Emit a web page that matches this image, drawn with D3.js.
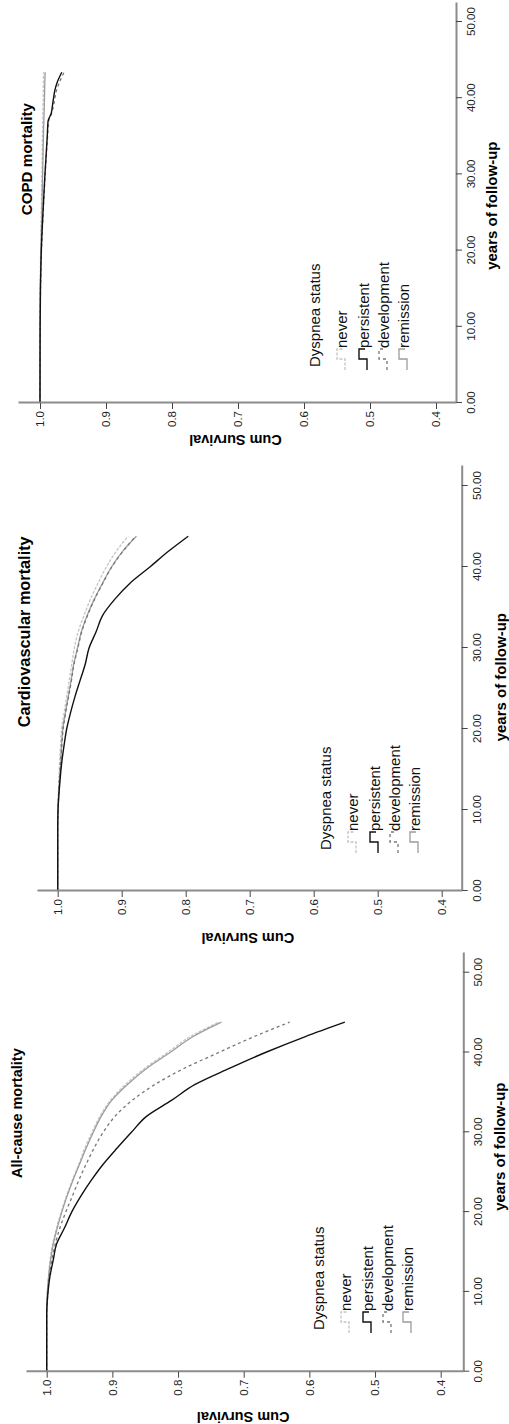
<!DOCTYPE html>
<html>
<head>
<meta charset="utf-8">
<script src="https://cdn.jsdelivr.net/npm/d3@7"></script>
<style>
  body { margin: 0; background: #fff; }
  svg { display: block; }
</style>
</head>
<body>
<div id="chart"></div>
<script>
// ── Data ──────────────────────────────────────────────────────────────────────
const GROUPS  = ["never", "persistent", "development", "remission"];
const TITLES  = ["All-cause mortality", "Cardiovascular mortality", "COPD mortality"];
const LEGEND_TITLE = "Dyspnea status";
const X_LABEL = "years of follow-up";
const Y_LABEL = "Cum Survival";
const X_TICKS = [0, 10, 20, 30, 40, 50];
const Y_TICKS = [0.4, 0.5, 0.6, 0.7, 0.8, 0.9, 1.0];

const ALL_T           = [0, 7, 10, 12, 14, 16, 18, 20, 22, 24, 26, 28, 30, 32, 34, 36, 38, 40, 42, 43.8];
const ALL_NEVER       = [1, 1, 0.999, 0.997, 0.995, 0.991, 0.985, 0.978, 0.970, 0.961, 0.951, 0.942, 0.931, 0.919, 0.903, 0.880, 0.851, 0.816, 0.781, 0.738];
const ALL_PERSISTENT  = [1, 1, 0.998, 0.995, 0.990, 0.985, 0.973, 0.962, 0.948, 0.932, 0.914, 0.893, 0.871, 0.848, 0.810, 0.774, 0.722, 0.667, 0.606, 0.546];
const ALL_DEVELOPMENT = [1, 1, 0.998, 0.996, 0.992, 0.987, 0.980, 0.971, 0.961, 0.951, 0.940, 0.928, 0.914, 0.896, 0.870, 0.835, 0.791, 0.738, 0.684, 0.630];
const ALL_REMISSION   = [1, 1, 0.999, 0.997, 0.994, 0.990, 0.984, 0.977, 0.969, 0.960, 0.950, 0.940, 0.929, 0.917, 0.901, 0.877, 0.848, 0.812, 0.777, 0.734];

const CV_T           = [0, 7.5, 10, 12, 14, 16, 18, 20, 22, 24, 26, 28, 30, 32, 34, 36, 38, 40, 42, 43.8];
const CV_NEVER       = [1, 1, 0.9995, 0.999, 0.998, 0.997, 0.9955, 0.994, 0.990, 0.986, 0.982, 0.978, 0.974, 0.968, 0.959, 0.949, 0.937, 0.924, 0.908, 0.890];
const CV_PERSISTENT  = [1, 1, 0.9995, 0.998, 0.996, 0.9935, 0.990, 0.986, 0.980, 0.973, 0.965, 0.957, 0.951, 0.940, 0.930, 0.911, 0.887, 0.856, 0.826, 0.796];
const CV_DEVELOPMENT = [1, 1, 0.9995, 0.9985, 0.997, 0.9955, 0.9935, 0.9915, 0.9875, 0.983, 0.9785, 0.9745, 0.9685, 0.9625, 0.9535, 0.9425, 0.9295, 0.9155, 0.8975, 0.878];
const CV_REMISSION   = [1, 1, 0.9995, 0.9985, 0.997, 0.995, 0.994, 0.992, 0.988, 0.9835, 0.979, 0.975, 0.969, 0.963, 0.954, 0.943, 0.930, 0.916, 0.898, 0.877];

const COPD_T           = [0, 10, 15, 20, 25, 30, 35, 37, 38, 39, 40, 41, 42, 43.4];
const COPD_NEVER       = [1, 0.9999, 0.9997, 0.999, 0.998, 0.997, 0.9962, 0.9958, 0.9956, 0.9954, 0.9952, 0.995, 0.9948, 0.9946];
const COPD_PERSISTENT  = [1, 0.9998, 0.9993, 0.998, 0.9955, 0.9925, 0.989, 0.9878, 0.983, 0.9812, 0.9795, 0.9776, 0.9743, 0.967];
const COPD_DEVELOPMENT = [1, 0.9998, 0.9992, 0.9978, 0.9952, 0.9922, 0.9885, 0.9868, 0.9825, 0.9795, 0.9775, 0.975, 0.971, 0.9635];
const COPD_REMISSION   = [1, 0.9998, 0.9995, 0.9985, 0.9972, 0.996, 0.9948, 0.9942, 0.9938, 0.9935, 0.9932, 0.993, 0.9927, 0.9922];

// ── Styles ────────────────────────────────────────────────────────────────────
const FONT = "'Liberation Sans', Arial, Helvetica, sans-serif";
const STYLE = {
  never:       { stroke: "#c4c4c4", dash: "3,1.5", width: 1.3 },
  persistent:  { stroke: "#111",    dash: null,    width: 1.4 },
  development: { stroke: "#777",    dash: "3,3",   width: 1.3 },
  remission:   { stroke: "#9c9c9c", dash: null,    width: 1.3 },
};
const DRAW_ORDER = ["never", "remission", "development", "persistent"];
const LEGEND_ROWS = [27, 49, 69, 89];

// ── Layout (landscape coords, whole figure is turned -90° afterwards) ────────
const W = 1424, H = 509;
const PANELS = [
  { title: TITLES[0], t: ALL_T,
    series: { never: ALL_NEVER, persistent: ALL_PERSISTENT, development: ALL_DEVELOPMENT, remission: ALL_REMISSION },
    x0: 52.3, x50: 451.3, xEnd: 471, y10: 46.7, y04: 440.7, yTop: 26, yBot: 463.3,
    titleT: 32.4, titleY: 22, titleSize: 14.5, xLabT: 28.2, xLabY: 505, yLabX: 12.3, legX: 94, legY: 324 },
  { title: TITLES[1], t: CV_T,
    series: { never: CV_NEVER, persistent: CV_PERSISTENT, development: CV_DEVELOPMENT, remission: CV_REMISSION },
    x0: 533, x50: 938, xEnd: 958, y10: 57.7, y04: 441.7, yTop: 37, yBot: 461.7,
    titleT: 32, titleY: 30, titleSize: 16.3, xLabT: 26.4, xLabY: 505.5, yLabX: 490.7, legX: 574, legY: 331 },
  { title: TITLES[2], t: COPD_T,
    series: { never: COPD_NEVER, persistent: COPD_PERSISTENT, development: COPD_DEVELOPMENT, remission: COPD_REMISSION },
    x0: 1021, x50: 1402, xEnd: 1421, y10: 40, y04: 436, yTop: 18, yBot: 456,
    titleT: 32, titleY: 31.8, titleSize: 15.2, xLabT: 25.9, xLabY: 497, yLabX: 989, legX: 1057, legY: 320 },
];

// ── SVG ───────────────────────────────────────────────────────────────────────
const svg = d3.select("#chart").append("svg")
  .attr("width", H).attr("height", W)
  .style("background", "#fff");

const root = svg.append("g")
  .attr("transform", `translate(0,${W}) rotate(-90)`)
  .attr("font-family", FONT);

function styleAxis(a) {
  a.attr("font-family", FONT).attr("font-size", 11.5);
  a.select(".domain").attr("stroke", "#8c8c8c").attr("stroke-width", 2);
  a.selectAll(".tick line").attr("stroke", "#444");
  a.selectAll(".tick text").attr("fill", "#222");
}

// ── Draw panels ───────────────────────────────────────────────────────────────
PANELS.forEach(p => {
  const g = root.append("g");

  const x = d3.scaleLinear().domain([0, 50]).range([p.x0, p.x50]);
  x.domain([0, x.invert(p.xEnd)]).range([p.x0, p.xEnd]);

  const y = d3.scaleLinear().domain([0.4, 1]).range([p.y04, p.y10]);
  y.domain([y.invert(p.yBot), y.invert(p.yTop)]).range([p.yBot, p.yTop]);

  // curves
  const line = d3.line()
    .x((d, i) => x(p.t[i]))
    .y(d => y(d))
    .curve(d3.curveMonotoneX);

  DRAW_ORDER.forEach(k => {
    const s = STYLE[k];
    g.append("path")
      .datum(p.series[k])
      .attr("d", line)
      .attr("fill", "none")
      .attr("stroke", s.stroke)
      .attr("stroke-width", s.width)
      .attr("stroke-dasharray", s.dash);
  });

  // axes
  const xAxisG = g.append("g")
    .attr("transform", `translate(0,${p.yBot})`)
    .call(d3.axisBottom(x).tickValues(X_TICKS).tickFormat(d3.format(".2f"))
      .tickSize(6).tickPadding(5).tickSizeOuter(0));
  styleAxis(xAxisG);

  const yAxisG = g.append("g")
    .attr("transform", `translate(${p.x0},0)`)
    .call(d3.axisLeft(y).tickValues(Y_TICKS).tickFormat(d3.format(".1f"))
      .tickSize(6).tickPadding(2).tickSizeOuter(0));
  styleAxis(yAxisG);

  // title
  g.append("text")
    .attr("x", x(p.titleT)).attr("y", p.titleY)
    .attr("text-anchor", "middle")
    .attr("font-weight", "bold")
    .attr("font-size", p.titleSize)
    .attr("fill", "#000")
    .text(p.title);

  // x label
  g.append("text")
    .attr("x", x(p.xLabT)).attr("y", p.xLabY)
    .attr("text-anchor", "middle")
    .attr("font-weight", "bold")
    .attr("font-size", 15)
    .attr("fill", "#000")
    .text(X_LABEL);

  // y label
  const yMid = (p.yTop + p.yBot) / 2 - 1.5;
  g.append("text")
    .attr("transform", `translate(${p.yLabX},${yMid}) rotate(-90)`)
    .attr("text-anchor", "middle")
    .attr("font-weight", "bold")
    .attr("font-size", 14.5)
    .attr("fill", "#000")
    .text(Y_LABEL);

  // legend
  const lg = g.append("g").attr("font-size", 15).attr("fill", "#111");
  lg.append("text").attr("x", p.legX).attr("y", p.legY).text(LEGEND_TITLE);
  GROUPS.forEach((k, i) => {
    const b = p.legY + LEGEND_ROWS[i];
    const s = STYLE[k];
    const sym = d3.path();
    sym.moveTo(p.legX - 3, b - 2);
    sym.lineTo(p.legX + 8, b - 2);
    sym.lineTo(p.legX + 8, b - 10);
    sym.lineTo(p.legX + 18, b - 10);
    sym.lineTo(p.legX + 18, b - 4);
    lg.append("path")
      .attr("d", sym.toString())
      .attr("fill", "none")
      .attr("stroke", s.stroke)
      .attr("stroke-width", s.width)
      .attr("stroke-dasharray", s.dash);
    lg.append("text").attr("x", p.legX + 19).attr("y", b).text(k);
  });
});
</script>
</body>
</html>
